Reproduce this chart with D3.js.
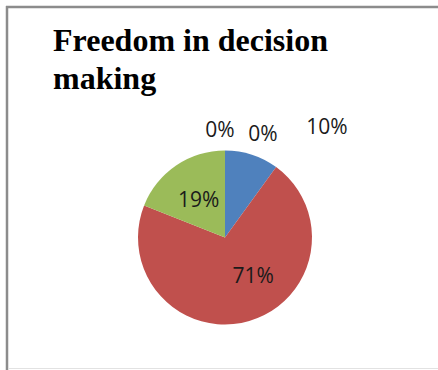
<!DOCTYPE html>
<html>
<head>
<meta charset="utf-8">
<script src="https://cdn.jsdelivr.net/npm/d3@7"></script>
<style>
  html, body { margin: 0; padding: 0; background: #fff; }
  svg { display: block; }
</style>
</head>
<body>
<script>
// Share of respondents by answer, in drawing order (clockwise from 12 o'clock)
const categories = ["A", "B", "C", "D", "E"];
const values = [10, 71, 19, 0, 0];
const labels = ["10%", "71%", "19%", "0%", "0%"];
const colors = ["#4F81BD", "#C0504D", "#9BBB59", "#8064A2", "#4BACC6"];
const titleLines = ["Freedom in decision", "making"];

const W = 438, H = 370;
const cx = 225, cy = 237.5, R = 87;

const svg = d3.select("body").append("svg")
  .attr("width", W).attr("height", H);

// frame
svg.append("line").attr("x1", 7).attr("x2", 7).attr("y1", 6).attr("y2", H)
  .attr("stroke", "#8c8c8c").attr("stroke-width", 2.5);
svg.append("line").attr("x1", 6).attr("x2", W).attr("y1", 7).attr("y2", 7)
  .attr("stroke", "#8c8c8c").attr("stroke-width", 2.5);
svg.append("line").attr("x1", 8).attr("x2", W).attr("y1", 368.5).attr("y2", 368.5)
  .attr("stroke", "#e2e2e2").attr("stroke-width", 1);

// title
const title = svg.append("text")
  .attr("font-family", "'Liberation Serif', 'Times New Roman', serif")
  .attr("font-weight", "bold").attr("font-size", 32).attr("fill", "#000");
titleLines.forEach((t, i) => {
  title.append("tspan").attr("x", 53).attr("y", 51 + i * 37.5).text(t);
});

const pie = d3.pie().value(d => d).sort(null)
  .startAngle(0).endAngle(2 * Math.PI);
const arcs = pie(values);
const arc = d3.arc().innerRadius(0).outerRadius(R);

const g = svg.append("g").attr("transform", `translate(${cx},${cy})`);
g.selectAll("path.slice").data(arcs).enter().append("path")
  .attr("class", "slice")
  .attr("d", arc)
  .attr("fill", (d, i) => colors[i]);

// label placement: inside slices sit near the centroid, small slices are pushed outside
const labelArcInside = d3.arc().innerRadius(47).outerRadius(47);
const nudge = [[102, -112], null, null, [-5, -108.5], [38, -105]];
const nudgeInside = [null, [15, -8], [0, 0], null, null];

g.selectAll("text.lbl").data(arcs).enter().append("text")
  .attr("class", "lbl")
  .attr("text-anchor", "middle")
  .attr("dominant-baseline", "central")
  .attr("font-family", "'Open Sans', 'Noto Sans', sans-serif")
  .attr("font-size", 21)
  .attr("fill", "#1a1a1a")
  .attr("transform", (d, i) => {
    let p;
    if (nudge[i]) p = nudge[i];
    else {
      const c = labelArcInside.centroid(d);
      p = [c[0] + nudgeInside[i][0], c[1] + nudgeInside[i][1]];
    }
    return `translate(${p[0]},${p[1]})`;
  })
  .text((d, i) => labels[i]);
</script>
</body>
</html>
